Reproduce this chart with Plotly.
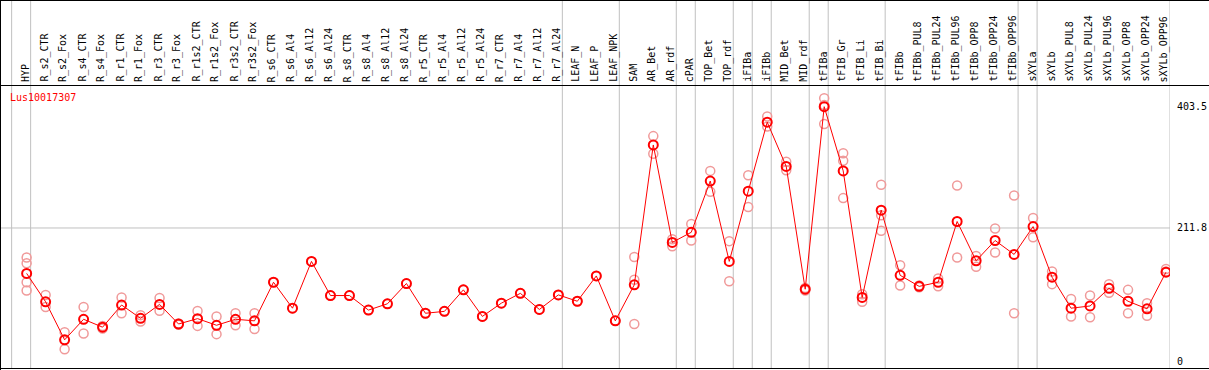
import plotly.graph_objects as go

title = "Lus10017307"

categories = [
    "HYP", "R_s2_CTR", "R_s2_Fox", "R_s4_CTR", "R_s4_Fox", "R_r1_CTR", "R_r1_Fox",
    "R_r3_CTR", "R_r3_Fox", "R_r1s2_CTR", "R_r1s2_Fox", "R_r3s2_CTR", "R_r3s2_Fox",
    "R_s6_CTR", "R_s6_Al4", "R_s6_Al12", "R_s6_Al24", "R_s8_CTR", "R_s8_Al4",
    "R_s8_Al12", "R_s8_Al24", "R_r5_CTR", "R_r5_Al4", "R_r5_Al12", "R_r5_Al24",
    "R_r7_CTR", "R_r7_Al4", "R_r7_Al12", "R_r7_Al24", "LEAF_N", "LEAF_P", "LEAF_NPK",
    "SAM", "AR_Bet", "AR_rdf", "cPAR", "TOP_Bet", "TOP_rdf", "iFIBa", "iFIBb",
    "MID_Bet", "MID_rdf", "tFIBa", "tFIB_Gr", "tFIB_Li", "tFIB_Bi", "tFIBb",
    "tFIBb_PUL8", "tFIBb_PUL24", "tFIBb_PUL96", "tFIBb_OPP8", "tFIBb_OPP24",
    "tFIBb_OPP96", "sXYLa", "sXYLb", "sXYLb_PUL8", "sXYLb_PUL24", "sXYLb_PUL96",
    "sXYLb_OPP8", "sXYLb_OPP24", "sXYLb_OPP96",
]

means = [
    140, 95, 35, 67.5, 55, 90, 69, 91, 60, 68.5, 58, 67.5, 65,
    126, 85, 159, 105, 105, 82, 92, 124, 77, 80, 114, 72,
    93, 108.5, 83, 106, 96, 136, 65,
    122, 343, 189, 205, 286, 159, 270, 379,
    309, 115, 403.5, 302, 102, 240, 137,
    119.5, 126, 222, 160, 192, 170,
    214, 134, 85, 88.5, 116.5, 96, 84, 142,
]

replicates = [
    [165, 156, 126, 113], [106, 87], [47, 20], [87, 45], [57, 53], [102, 77], [74, 64],
    [101, 81], [61, 59], [80.6, 57], [72, 44], [77, 58], [77, 52],
    [126], [85], [159], [105], [105], [82], [92], [124], [77], [80], [114], [72],
    [93], [108.5], [83], [106], [96], [136], [65],
    [166, 130, 60], [357, 329], [194, 183], [218, 192], [302, 269], [191, 127.5],
    [295, 245], [388, 372],
    [316.5, 303], [117, 113], [417, 406, 376], [330, 318, 259], [107, 95],
    [280, 232, 207.5], [153, 121],
    [121, 118], [132, 119.5], [279, 165], [167.5, 150.6], [211, 173], [263, 77],
    [227.6, 197], [143, 123], [99.6, 72], [105, 70.6], [123, 109.5], [114, 77],
    [93, 73], [147, 143],
]

group_ends = [-1, 0, 28, 31, 34, 35, 37, 38, 39, 41, 42, 45, 52, 53, 60]
ytick_vals = [0, 211.8, 403.5]
ytick_text = ["0", "211.8", "403.5"]

FONT = "DejaVu Sans Mono"
W, H = 1209, 370
ML, MR, MT, MB = 1, 39, 87, 1
plot_h = H - MT - MB

x_idx = list(range(len(categories)))
rep_x = [i for i, reps in zip(x_idx, replicates) for _ in reps]
rep_y = [v for reps in replicates for v in reps]

fig = go.Figure()
fig.add_trace(go.Scatter(
    x=rep_x, y=rep_y, mode="markers",
    marker=dict(symbol="circle-open", size=9, color="#f09a9a", line=dict(width=1.5)),
    hoverinfo="skip", showlegend=False,
))
fig.add_trace(go.Scatter(
    x=x_idx, y=means, mode="lines+markers",
    line=dict(color="#ff0000", width=1),
    marker=dict(symbol="circle-open", size=9, color="#ff0000", line=dict(width=2)),
    showlegend=False,
))

off = 4 / 19
shapes = []
for g in group_ends:
    shapes.append(dict(type="line", xref="x", yref="paper", x0=g + off, x1=g + off,
                       y0=0, y1=(H - MB) / plot_h, line=dict(color="#c0c0c0", width=1),
                       layer="below"))
shapes.append(dict(type="line", xref="paper", yref="y", x0=0, x1=1,
                   y0=ytick_vals[1], y1=ytick_vals[1], line=dict(color="#c0c0c0", width=1),
                   layer="below"))

def py(p):
    return (H - MB - p) / plot_h

def px(p):
    return (p - ML) / (W - ML - MR)

# frame lines
shapes += [
    dict(type="line", xref="paper", yref="paper", x0=px(0), x1=px(W), y0=py(0.5), y1=py(0.5),
         line=dict(color="black", width=1)),
    dict(type="line", xref="paper", yref="paper", x0=px(0), x1=px(W), y0=py(85.5), y1=py(85.5),
         line=dict(color="black", width=1)),
    dict(type="line", xref="paper", yref="paper", x0=px(0), x1=px(W), y0=py(368.5), y1=py(368.5),
         line=dict(color="black", width=1)),
    dict(type="line", xref="paper", yref="paper", x0=px(0.5), x1=px(0.5), y0=py(0), y1=py(370),
         line=dict(color="black", width=1)),
]

annotations = []
for i, c in enumerate(categories):
    annotations.append(dict(x=i - 0.08, y=py(83), xref="x", yref="paper", text=c,
                            textangle=-90, showarrow=False, xanchor="center", yanchor="bottom",
                            font=dict(family=FONT, size=10, color="black"), borderpad=0))
annotations.append(dict(x=px(9), y=py(97), xref="paper", yref="paper", text=title,
                        showarrow=False, xanchor="left", yanchor="middle",
                        font=dict(family=FONT, size=10, color="#ff0000"), borderpad=0))

fig.update_layout(
    width=W, height=H,
    margin=dict(l=ML, r=MR, t=MT, b=MB, pad=0),
    paper_bgcolor="white", plot_bgcolor="white",
    shapes=shapes, annotations=annotations,
    xaxis=dict(range=[-1.35, 60.21], showgrid=False, zeroline=False, showticklabels=False,
               showline=False, ticks=""),
    yaxis=dict(range=[-11.1, 434.6], side="right", tickvals=ytick_vals, ticktext=ytick_text,
               showgrid=False, zeroline=False, showline=False, ticks="",
               ticklabelstandoff=6,
               tickfont=dict(family=FONT, size=10, color="black")),
)

fig.write_html("out.html", config={"displayModeBar": False},
               post_script="document.body.style.margin='0';document.body.style.overflow='hidden';")
